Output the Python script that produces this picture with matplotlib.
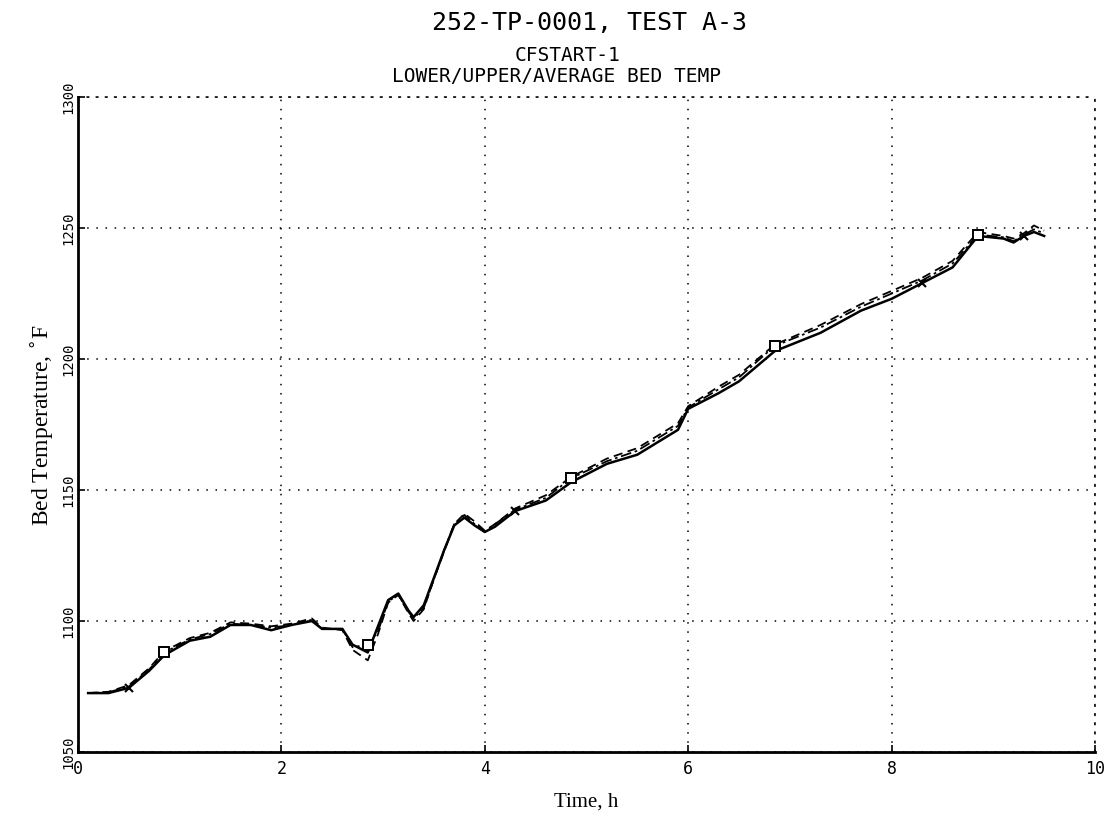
import matplotlib.pyplot as plt
import numpy as np

# data (time in h, temperature in F)
time_h = [0.1, 0.3, 0.5, 0.7, 0.85, 1.1, 1.3, 1.5, 1.7, 1.9, 2.1, 2.3, 2.4, 2.6,
          2.7, 2.85, 2.95, 3.05, 3.15, 3.25, 3.3, 3.4, 3.5, 3.6, 3.7, 3.8, 3.9,
          4.0, 4.1, 4.3, 4.6, 4.85, 5.2, 5.5, 5.9, 6.0, 6.3, 6.5, 6.85, 7.3, 7.7,
          8.0, 8.3, 8.6, 8.85, 9.1, 9.2, 9.3, 9.4, 9.5]
lower = [1072.5, 1072.5, 1074.5, 1081, 1087, 1092.5, 1094, 1098.5, 1098.5, 1096.5,
         1098.5, 1100, 1097, 1097, 1091, 1088, 1098, 1108, 1110.5, 1104, 1101.5,
         1106, 1116.5, 1127, 1136.5, 1139.5, 1136.5, 1134, 1136, 1142, 1146,
         1153, 1160, 1163.5, 1173, 1181, 1187, 1191.5, 1203, 1210, 1218.5, 1223,
         1229, 1235, 1247, 1246, 1244.5, 1247, 1248.5, 1247]
upper = [1072.5, 1073, 1075.5, 1082, 1088.5, 1093.5, 1095.5, 1099.5, 1099, 1098,
         1099, 1101, 1097.5, 1096.5, 1089, 1085, 1095, 1107, 1110, 1103, 1100,
         1104.5, 1116, 1126.5, 1137, 1141, 1138, 1134.5, 1137, 1143, 1148,
         1155, 1162, 1166, 1175.5, 1182, 1189.5, 1194, 1205.5, 1213, 1221, 1226,
         1231, 1237.5, 1248.5, 1247, 1246, 1248, 1251, 1249]
average = [1072.5, 1072.8, 1075, 1081.5, 1088, 1093, 1095, 1099, 1098.5, 1097.5,
           1098.5, 1100.5, 1097, 1097, 1090, 1091, 1096, 1107.5, 1110, 1103.5, 1101,
           1105, 1116, 1127, 1137, 1140.5, 1137, 1134, 1137, 1142.5, 1147,
           1154.5, 1161, 1165, 1174.5, 1181.5, 1188.5, 1193, 1205, 1212, 1220, 1225,
           1230, 1236.5, 1247.5, 1246.5, 1245, 1247.5, 1249.5, 1248]

x_ticks = [0, 2, 4, 6, 8, 10]
y_ticks = [1050, 1100, 1150, 1200, 1250, 1300]

square_idx = [4, 15, 31, 38, 44]   # open squares on the average curve
cross_idx = [2, 29, 42, 47]        # small crosses on the lower curve

mono = 'DejaVu Sans Mono'
serif = 'Liberation Serif'

fig = plt.figure(figsize=(11.12, 8.16), dpi=100)
ax = fig.add_axes([0.0701, 0.0784, 0.9146, 0.8026])

ax.plot(time_h, lower, color='black', lw=1.8, ls='-',
        marker='x', markevery=cross_idx, ms=6, mew=1.5)
ax.plot(time_h, upper, color='black', lw=1.3, ls=(0, (5, 3)))
ax.plot(time_h, average, color='black', lw=1.3, ls=(0, (6, 2, 1.5, 2)),
        marker='s', markevery=square_idx, ms=7, mfc='white', mec='black', mew=1.4)

ax.set_xlim(0, 10)
ax.set_ylim(1050, 1300)
ax.set_xticks(x_ticks)
ax.set_yticks(y_ticks)
ax.set_xticklabels([str(v) for v in x_ticks], family=mono, fontsize=12)
ax.set_yticklabels([str(v) for v in y_ticks], family=mono, fontsize=10,
                   rotation=90, va='center')
ax.tick_params(direction='in', length=5, width=1.2, pad=2)
ax.tick_params(axis='x', pad=6)

ax.grid(True, color='black', ls=(0, (1, 5)), lw=1.1)
for side in ['top', 'right']:
    ax.spines[side].set_linestyle((0, (1, 5)))
    ax.spines[side].set_linewidth(1.1)
ax.spines['left'].set_linewidth(2.0)
ax.spines['bottom'].set_linewidth(2.0)
ax.spines['bottom'].set_linestyle((0, (6, 1)))

ax.set_xlabel('Time, h', family=serif, fontsize=15, labelpad=10)
ax.set_ylabel('Bed Temperature, $^{\\circ}$F', family=serif, fontsize=17, labelpad=4)

fig.text(0.53, 0.972, '252-TP-0001, TEST A-3', family=mono, fontsize=18,
         ha='center', va='center')
fig.text(0.51, 0.932, 'CFSTART-1', family=mono, fontsize=14,
         ha='center', va='center')
fig.text(0.50, 0.906, 'LOWER/UPPER/AVERAGE BED TEMP', family=mono, fontsize=14,
         ha='center', va='center')

fig.savefig('out.png', dpi=100)
